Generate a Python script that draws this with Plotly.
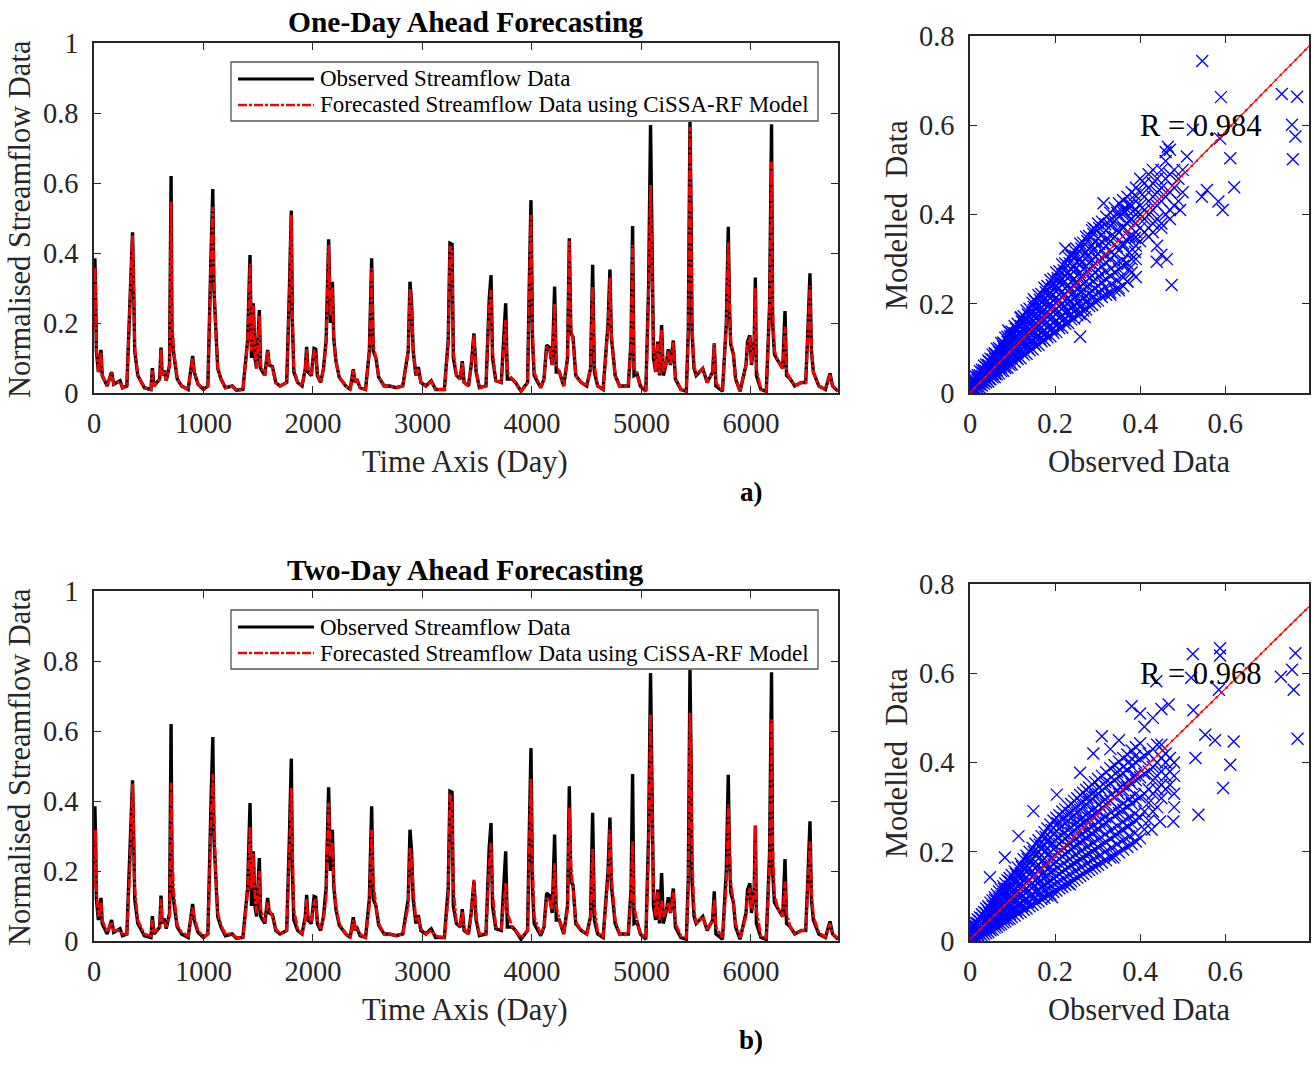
import numpy as np
import plotly.graph_objects as go

# ---------------- time series (day, observed, 1-day forecast, 2-day forecast) ----------------
DAYS = [0, 8, 14, 22, 40, 64, 75, 120, 161, 180, 238, 260, 300, 330, 345, 352, 362, 372, 400, 460,
        520, 533, 548, 600, 612, 622, 640, 660, 690, 700, 704, 712, 725, 760, 800, 860, 901, 915, 950, 1000,
        1040, 1070, 1085, 1095, 1110, 1130, 1160, 1200, 1263, 1300, 1360, 1382, 1403, 1425, 1438, 1455, 1470, 1485, 1510, 1522,
        1560, 1586, 1600, 1630, 1660, 1700, 1760, 1785, 1802, 1812, 1825, 1860, 1900, 1930, 1942, 1955, 1985, 2010, 2025, 2040,
        2070, 2096, 2120, 2143, 2160, 2177, 2190, 2210, 2240, 2300, 2340, 2368, 2385, 2400, 2430, 2480, 2515, 2536, 2550, 2575,
        2600, 2650, 2700, 2760, 2820, 2870, 2886, 2900, 2915, 2940, 2962, 2985, 3030, 3080, 3120, 3200, 3235, 3251, 3270, 3282,
        3310, 3345, 3364, 3380, 3420, 3445, 3470, 3490, 3520, 3580, 3610, 3626, 3640, 3670, 3720, 3760, 3775, 3820, 3850, 3900,
        3960, 3975, 3991, 4005, 4020, 4080, 4110, 4134, 4160, 4185, 4207, 4222, 4250, 4290, 4325, 4341, 4355, 4375, 4400, 4450,
        4500, 4535, 4554, 4570, 4600, 4650, 4695, 4712, 4725, 4760, 4800, 4880, 4905, 4919, 4932, 4960, 4990, 5040, 5065, 5083,
        5095, 5110, 5130, 5148, 5165, 5184, 5200, 5230, 5245, 5265, 5291, 5310, 5360, 5410, 5428, 5443, 5452, 5462, 5480, 5500,
        5560, 5600, 5650, 5665, 5680, 5740, 5775, 5793, 5803, 5815, 5840, 5860, 5900, 5955, 5969, 5990, 6005, 6030, 6040, 6050,
        6090, 6140, 6170, 6188, 6198, 6215, 6250, 6290, 6311, 6325, 6360, 6400, 6460, 6500, 6520, 6539, 6552, 6570, 6620, 6680,
        6722, 6745, 6795]

OBS = [0.20, 0.385, 0.30, 0.12, 0.06, 0.123, 0.05, 0.02, 0.06, 0.025, 0.035, 0.015, 0.02, 0.27, 0.40, 0.459, 0.30, 0.12, 0.05, 0.015,
       0.01, 0.071, 0.02, 0.04, 0.13, 0.05, 0.065, 0.035, 0.08, 0.45, 0.62, 0.18, 0.12, 0.04, 0.02, 0.01, 0.106, 0.06, 0.025, 0.01,
       0.02, 0.41, 0.583, 0.30, 0.18, 0.07, 0.04, 0.015, 0.02, 0.008, 0.01, 0.08, 0.15, 0.394, 0.10, 0.256, 0.10, 0.07, 0.237, 0.07,
       0.05, 0.123, 0.08, 0.075, 0.03, 0.02, 0.03, 0.30, 0.521, 0.20, 0.06, 0.03, 0.02, 0.07, 0.132, 0.06, 0.05, 0.127, 0.125, 0.05,
       0.03, 0.07, 0.15, 0.439, 0.20, 0.318, 0.155, 0.09, 0.045, 0.02, 0.01, 0.068, 0.03, 0.04, 0.015, 0.01, 0.12, 0.385, 0.12, 0.10,
       0.045, 0.02, 0.02, 0.015, 0.02, 0.12, 0.318, 0.26, 0.12, 0.05, 0.074, 0.03, 0.02, 0.035, 0.01, 0.01, 0.15, 0.428, 0.425, 0.10,
       0.05, 0.04, 0.091, 0.03, 0.02, 0.08, 0.17, 0.06, 0.015, 0.02, 0.27, 0.337, 0.10, 0.035, 0.03, 0.256, 0.04, 0.04, 0.03, 0.005,
       0.03, 0.30, 0.551, 0.15, 0.05, 0.015, 0.04, 0.137, 0.13, 0.08, 0.304, 0.06, 0.06, 0.02, 0.10, 0.442, 0.17, 0.16, 0.05, 0.03,
       0.02, 0.07, 0.366, 0.06, 0.02, 0.01, 0.20, 0.353, 0.16, 0.05, 0.02, 0.02, 0.15, 0.477, 0.05, 0.055, 0.02, 0.005, 0.30, 0.766,
       0.37, 0.10, 0.06, 0.147, 0.05, 0.194, 0.05, 0.09, 0.125, 0.08, 0.15, 0.04, 0.01, 0.005, 0.18, 0.775, 0.55, 0.17, 0.07, 0.05,
       0.07, 0.03, 0.06, 0.142, 0.02, 0.005, 0.20, 0.475, 0.256, 0.14, 0.11, 0.04, 0.005, 0.08, 0.147, 0.165, 0.08, 0.15, 0.33, 0.05,
       0.01, 0.005, 0.25, 0.768, 0.20, 0.11, 0.09, 0.07, 0.234, 0.05, 0.04, 0.02, 0.03, 0.03, 0.18, 0.342, 0.12, 0.06, 0.02, 0.01,
       0.056, 0.02, 0.005]

FC_1DAY = [0.18, 0.36, 0.32, 0.13, 0.06, 0.115, 0.05, 0.02, 0.058, 0.025, 0.033, 0.015, 0.02, 0.26, 0.42, 0.45, 0.32, 0.13, 0.05, 0.015,
           0.01, 0.065, 0.02, 0.04, 0.125, 0.05, 0.063, 0.035, 0.08, 0.44, 0.547, 0.22, 0.13, 0.042, 0.02, 0.01, 0.10, 0.062, 0.025, 0.01,
           0.02, 0.40, 0.532, 0.33, 0.19, 0.07, 0.04, 0.015, 0.02, 0.008, 0.01, 0.078, 0.145, 0.37, 0.12, 0.25, 0.11, 0.07, 0.22, 0.08,
           0.05, 0.12, 0.085, 0.07, 0.03, 0.02, 0.03, 0.28, 0.509, 0.23, 0.07, 0.03, 0.02, 0.07, 0.125, 0.065, 0.05, 0.12, 0.12, 0.055,
           0.03, 0.068, 0.14, 0.423, 0.22, 0.30, 0.16, 0.09, 0.045, 0.02, 0.01, 0.065, 0.03, 0.04, 0.015, 0.01, 0.12, 0.356, 0.14, 0.10,
           0.045, 0.02, 0.02, 0.015, 0.02, 0.12, 0.30, 0.25, 0.13, 0.05, 0.07, 0.03, 0.02, 0.033, 0.01, 0.01, 0.14, 0.42, 0.41, 0.12,
           0.05, 0.04, 0.088, 0.03, 0.02, 0.08, 0.165, 0.065, 0.015, 0.02, 0.25, 0.294, 0.12, 0.035, 0.03, 0.209, 0.06, 0.04, 0.03, 0.005,
           0.03, 0.28, 0.509, 0.18, 0.06, 0.015, 0.04, 0.13, 0.13, 0.08, 0.256, 0.08, 0.06, 0.02, 0.10, 0.435, 0.19, 0.15, 0.05, 0.03,
           0.02, 0.07, 0.304, 0.08, 0.02, 0.01, 0.19, 0.33, 0.17, 0.05, 0.02, 0.02, 0.14, 0.423, 0.07, 0.055, 0.02, 0.005, 0.28, 0.594,
           0.40, 0.12, 0.06, 0.14, 0.055, 0.18, 0.06, 0.09, 0.12, 0.08, 0.145, 0.045, 0.01, 0.005, 0.17, 0.76, 0.55, 0.20, 0.08, 0.05,
           0.07, 0.03, 0.06, 0.14, 0.03, 0.005, 0.19, 0.43, 0.27, 0.15, 0.11, 0.04, 0.005, 0.08, 0.14, 0.16, 0.085, 0.15, 0.299, 0.07,
           0.01, 0.005, 0.24, 0.661, 0.24, 0.12, 0.09, 0.07, 0.19, 0.06, 0.04, 0.02, 0.03, 0.03, 0.17, 0.306, 0.13, 0.06, 0.02, 0.01,
           0.054, 0.02, 0.005]

FC_2DAY = [0.15, 0.30, 0.318, 0.15, 0.07, 0.11, 0.06, 0.025, 0.055, 0.03, 0.03, 0.02, 0.02, 0.22, 0.40, 0.45, 0.34, 0.15, 0.06, 0.02,
           0.015, 0.06, 0.025, 0.04, 0.12, 0.06, 0.06, 0.04, 0.07, 0.40, 0.452, 0.30, 0.15, 0.045, 0.025, 0.015, 0.095, 0.07, 0.03, 0.012,
           0.02, 0.35, 0.478, 0.38, 0.20, 0.08, 0.045, 0.02, 0.02, 0.01, 0.01, 0.07, 0.14, 0.327, 0.15, 0.25, 0.12, 0.08, 0.20, 0.09,
           0.055, 0.11, 0.09, 0.07, 0.035, 0.02, 0.03, 0.25, 0.437, 0.28, 0.09, 0.035, 0.02, 0.06, 0.12, 0.07, 0.055, 0.11, 0.12, 0.06,
           0.035, 0.065, 0.12, 0.395, 0.24, 0.28, 0.17, 0.10, 0.05, 0.02, 0.01, 0.06, 0.035, 0.04, 0.02, 0.01, 0.10, 0.317, 0.17, 0.10,
           0.05, 0.02, 0.02, 0.015, 0.02, 0.10, 0.265, 0.24, 0.15, 0.06, 0.065, 0.035, 0.02, 0.03, 0.015, 0.01, 0.12, 0.42, 0.39, 0.15,
           0.055, 0.04, 0.085, 0.035, 0.02, 0.075, 0.177, 0.07, 0.02, 0.02, 0.22, 0.28, 0.14, 0.04, 0.035, 0.166, 0.08, 0.04, 0.03, 0.01,
           0.03, 0.25, 0.463, 0.22, 0.07, 0.02, 0.04, 0.12, 0.12, 0.09, 0.222, 0.10, 0.06, 0.02, 0.09, 0.38, 0.22, 0.15, 0.055, 0.03,
           0.02, 0.065, 0.263, 0.10, 0.025, 0.01, 0.18, 0.318, 0.19, 0.06, 0.02, 0.02, 0.12, 0.284, 0.10, 0.055, 0.02, 0.01, 0.25, 0.648,
           0.45, 0.15, 0.07, 0.14, 0.06, 0.115, 0.07, 0.09, 0.11, 0.08, 0.14, 0.05, 0.015, 0.01, 0.15, 0.652, 0.55, 0.25, 0.09, 0.05,
           0.07, 0.03, 0.06, 0.12, 0.04, 0.01, 0.16, 0.39, 0.30, 0.17, 0.11, 0.05, 0.01, 0.07, 0.13, 0.15, 0.09, 0.14, 0.33, 0.09,
           0.015, 0.01, 0.22, 0.633, 0.28, 0.13, 0.09, 0.07, 0.17, 0.08, 0.04, 0.02, 0.03, 0.03, 0.16, 0.284, 0.15, 0.07, 0.025, 0.01,
           0.05, 0.02, 0.008]

# ---------------- scatter: observed vs modelled ----------------
# dense part of each cloud: each row is [observed, modelled values seen at that observed level...]
CLOUD_1DAY = [
    [0.003, 0.0, 0.005, 0.011, 0.016, 0.02, 0.025], [0.008, 0.003, 0.009, 0.014, 0.019, 0.025, 0.029],
    [0.013, 0.005, 0.01, 0.016, 0.022, 0.028, 0.037], [0.018, 0.011, 0.017, 0.022, 0.029, 0.035, 0.04],
    [0.023, 0.012, 0.019, 0.026, 0.032, 0.04, 0.049], [0.028, 0.017, 0.024, 0.03, 0.038, 0.046, 0.052],
    [0.033, 0.021, 0.027, 0.035, 0.043, 0.051, 0.061], [0.038, 0.024, 0.032, 0.04, 0.049, 0.057, 0.064],
    [0.043, 0.026, 0.035, 0.045, 0.054, 0.062, 0.073], [0.048, 0.031, 0.04, 0.05, 0.059, 0.069, 0.077],
    [0.053, 0.035, 0.043, 0.055, 0.064, 0.075, 0.086], [0.058, 0.036, 0.048, 0.058, 0.07, 0.081, 0.089],
    [0.063, 0.042, 0.051, 0.063, 0.075, 0.086, 0.099], [0.068, 0.044, 0.056, 0.069, 0.08, 0.092, 0.101],
    [0.073, 0.049, 0.059, 0.073, 0.085, 0.097, 0.112], [0.078, 0.05, 0.064, 0.078, 0.091, 0.104, 0.113],
    [0.083, 0.056, 0.067, 0.082, 0.096, 0.109, 0.124], [0.088, 0.057, 0.072, 0.087, 0.101, 0.115, 0.126],
    [0.093, 0.063, 0.075, 0.091, 0.106, 0.121, 0.136], [0.098, 0.064, 0.08, 0.096, 0.112, 0.127, 0.138],
    [0.105, 0.07, 0.086, 0.103, 0.118, 0.134, 0.15], [0.112, 0.076, 0.091, 0.108, 0.126, 0.142, 0.155],
    [0.119, 0.078, 0.097, 0.115, 0.133, 0.15, 0.168], [0.126, 0.086, 0.102, 0.12, 0.14, 0.158, 0.172],
    [0.133, 0.088, 0.108, 0.127, 0.146, 0.165, 0.185], [0.14, 0.096, 0.113, 0.133, 0.153, 0.172, 0.189],
    [0.147, 0.098, 0.119, 0.139, 0.16, 0.18, 0.202], [0.154, 0.106, 0.124, 0.145, 0.167, 0.188, 0.205],
    [0.161, 0.108, 0.13, 0.152, 0.173, 0.195, 0.219], [0.168, 0.116, 0.135, 0.158, 0.18, 0.203, 0.222],
    [0.175, 0.118, 0.141, 0.164, 0.187, 0.21, 0.236], [0.182, 0.125, 0.146, 0.17, 0.194, 0.218, 0.24],
    [0.189, 0.127, 0.152, 0.176, 0.2, 0.225, 0.253], [0.196, 0.135, 0.157, 0.182, 0.207, 0.233, 0.256],
    [0.203, 0.137, 0.163, 0.189, 0.214, 0.24, 0.27], [0.21, 0.145, 0.168, 0.195, 0.221, 0.248, 0.273],
    [0.217, 0.147, 0.174, 0.201, 0.228, 0.255, 0.288], [0.224, 0.155, 0.18, 0.207, 0.235, 0.263, 0.29],
    [0.231, 0.157, 0.185, 0.213, 0.242, 0.27, 0.305], [0.238, 0.165, 0.19, 0.22, 0.249, 0.278, 0.307],
    [0.245, 0.167, 0.196, 0.226, 0.256, 0.286, 0.32], [0.252, 0.175, 0.201, 0.232, 0.263, 0.294, 0.322],
    [0.259, 0.177, 0.207, 0.238, 0.27, 0.301, 0.335], [0.266, 0.185, 0.212, 0.244, 0.277, 0.309, 0.337],
    [0.273, 0.187, 0.218, 0.25, 0.284, 0.316, 0.35], [0.28, 0.195, 0.223, 0.257, 0.291, 0.324, 0.352],
    [0.287, 0.197, 0.229, 0.263, 0.298, 0.331, 0.365], [0.294, 0.205, 0.234, 0.27, 0.305, 0.339, 0.367],
    [0.301, 0.207, 0.24, 0.276, 0.312, 0.346, 0.38], [0.31, 0.215, 0.248, 0.284, 0.32, 0.355, 0.384],
    [0.32, 0.22, 0.255, 0.292, 0.33, 0.365, 0.395], [0.33, 0.225, 0.262, 0.3, 0.34, 0.375, 0.404],
    [0.34, 0.23, 0.27, 0.31, 0.35, 0.385, 0.415], [0.35, 0.235, 0.277, 0.32, 0.36, 0.395, 0.425],
    [0.36, 0.24, 0.285, 0.33, 0.37, 0.405, 0.432], [0.37, 0.25, 0.29, 0.34, 0.38, 0.41, 0.44],
    [0.38, 0.27, 0.3, 0.35, 0.39, 0.42, 0.45], [0.39, 0.3, 0.33, 0.36, 0.4, 0.43, 0.46],
    [0.4, 0.34, 0.37, 0.4, 0.42, 0.45, 0.48], [0.41, 0.36, 0.39, 0.41, 0.44, 0.47],
    [0.42, 0.37, 0.4, 0.43, 0.46, 0.49], [0.43, 0.38, 0.41, 0.44, 0.47, 0.5],
    [0.44, 0.39, 0.42, 0.45, 0.48], [0.45, 0.38, 0.43, 0.46, 0.5], [0.46, 0.4, 0.44, 0.48, 0.52],
    [0.47, 0.41, 0.45, 0.49], [0.48, 0.42, 0.46, 0.5], [0.49, 0.43, 0.48], [0.5, 0.45, 0.5],
    [0.045, 0.032, 0.042, 0.051, 0.061, 0.07], [0.059, 0.043, 0.054, 0.065, 0.076, 0.087],
    [0.08, 0.059, 0.072, 0.085, 0.098, 0.111], [0.094, 0.069, 0.084, 0.098, 0.113, 0.127],
    [0.108, 0.08, 0.096, 0.112, 0.128, 0.144], [0.122, 0.09, 0.108, 0.125, 0.143, 0.16],
    [0.136, 0.101, 0.12, 0.139, 0.158, 0.176], [0.15, 0.111, 0.132, 0.152, 0.172, 0.193],
    [0.164, 0.122, 0.144, 0.165, 0.187, 0.209], [0.178, 0.132, 0.156, 0.179, 0.202, 0.226],
    [0.192, 0.143, 0.168, 0.192, 0.217, 0.242], [0.206, 0.153, 0.18, 0.206, 0.232, 0.258],
    [0.22, 0.164, 0.192, 0.219, 0.247, 0.275], [0.234, 0.174, 0.204, 0.233, 0.262, 0.291],
    [0.248, 0.185, 0.215, 0.246, 0.277, 0.307], [0.262, 0.195, 0.227, 0.26, 0.292, 0.324],
    [0.276, 0.206, 0.239, 0.273, 0.306, 0.34], [0.29, 0.216, 0.251, 0.286, 0.321, 0.356],
    [0.304, 0.227, 0.262, 0.298, 0.334, 0.369], [0.318, 0.237, 0.272, 0.307, 0.343, 0.378],
    [0.332, 0.244, 0.279, 0.315, 0.351, 0.386], [0.346, 0.252, 0.29, 0.328, 0.366, 0.404],
    [0.36, 0.259, 0.297, 0.335, 0.373, 0.411], [0.374, 0.278, 0.314, 0.35, 0.386, 0.422],
    [0.388, 0.316, 0.348, 0.38, 0.412, 0.444],
]
CLOUD_2DAY = [
    [0.003, 0.0, 0.006, 0.012, 0.018, 0.024, 0.029], [0.008, 0.002, 0.009, 0.016, 0.022, 0.029, 0.036],
    [0.013, 0.004, 0.011, 0.019, 0.027, 0.034, 0.041], [0.018, 0.007, 0.015, 0.023, 0.031, 0.04, 0.048],
    [0.023, 0.009, 0.017, 0.026, 0.036, 0.045, 0.053], [0.028, 0.012, 0.021, 0.03, 0.04, 0.051, 0.06],
    [0.033, 0.015, 0.024, 0.034, 0.045, 0.056, 0.065], [0.038, 0.018, 0.028, 0.038, 0.05, 0.062, 0.073],
    [0.043, 0.02, 0.031, 0.042, 0.054, 0.067, 0.078], [0.048, 0.024, 0.035, 0.047, 0.059, 0.073, 0.086],
    [0.053, 0.026, 0.038, 0.051, 0.064, 0.078, 0.091], [0.058, 0.03, 0.042, 0.055, 0.069, 0.084, 0.098],
    [0.063, 0.032, 0.045, 0.059, 0.074, 0.089, 0.104], [0.068, 0.036, 0.049, 0.063, 0.079, 0.095, 0.111],
    [0.073, 0.038, 0.052, 0.067, 0.084, 0.1, 0.116], [0.078, 0.042, 0.056, 0.072, 0.089, 0.106, 0.123],
    [0.083, 0.044, 0.059, 0.076, 0.094, 0.111, 0.129], [0.088, 0.048, 0.063, 0.08, 0.099, 0.117, 0.136],
    [0.093, 0.05, 0.066, 0.084, 0.104, 0.122, 0.141], [0.098, 0.054, 0.07, 0.088, 0.109, 0.128, 0.148],
    [0.105, 0.057, 0.075, 0.094, 0.115, 0.136, 0.156], [0.112, 0.062, 0.08, 0.1, 0.122, 0.144, 0.165],
    [0.119, 0.065, 0.085, 0.106, 0.129, 0.152, 0.173], [0.126, 0.07, 0.09, 0.112, 0.136, 0.16, 0.183],
    [0.133, 0.073, 0.095, 0.118, 0.143, 0.168, 0.191], [0.14, 0.078, 0.1, 0.124, 0.15, 0.176, 0.2],
    [0.147, 0.081, 0.105, 0.13, 0.157, 0.184, 0.209], [0.154, 0.086, 0.11, 0.136, 0.164, 0.192, 0.218],
    [0.161, 0.089, 0.115, 0.142, 0.171, 0.2, 0.226], [0.168, 0.094, 0.12, 0.148, 0.178, 0.208, 0.235],
    [0.175, 0.097, 0.125, 0.154, 0.185, 0.216, 0.244], [0.182, 0.102, 0.13, 0.16, 0.192, 0.224, 0.252],
    [0.189, 0.105, 0.135, 0.166, 0.199, 0.232, 0.261], [0.196, 0.11, 0.14, 0.172, 0.206, 0.24, 0.27],
    [0.203, 0.113, 0.145, 0.178, 0.212, 0.246, 0.276], [0.21, 0.118, 0.15, 0.184, 0.218, 0.252, 0.282],
    [0.217, 0.121, 0.155, 0.19, 0.224, 0.258, 0.29], [0.224, 0.126, 0.16, 0.195, 0.23, 0.264, 0.295],
    [0.231, 0.129, 0.165, 0.2, 0.236, 0.27, 0.302], [0.238, 0.134, 0.17, 0.206, 0.242, 0.276, 0.307],
    [0.245, 0.137, 0.174, 0.211, 0.248, 0.282, 0.314], [0.252, 0.142, 0.178, 0.216, 0.254, 0.288, 0.32],
    [0.259, 0.146, 0.183, 0.221, 0.26, 0.294, 0.327], [0.266, 0.15, 0.187, 0.226, 0.265, 0.3, 0.332],
    [0.273, 0.155, 0.192, 0.231, 0.27, 0.306, 0.339], [0.28, 0.159, 0.196, 0.236, 0.275, 0.312, 0.344],
    [0.287, 0.163, 0.2, 0.241, 0.28, 0.318, 0.351], [0.294, 0.167, 0.205, 0.246, 0.285, 0.324, 0.356],
    [0.301, 0.171, 0.21, 0.251, 0.29, 0.33, 0.363], [0.31, 0.176, 0.216, 0.258, 0.298, 0.337, 0.37],
    [0.32, 0.181, 0.222, 0.265, 0.306, 0.345, 0.378], [0.33, 0.187, 0.229, 0.272, 0.314, 0.353, 0.387],
    [0.34, 0.193, 0.236, 0.28, 0.322, 0.36, 0.394], [0.35, 0.199, 0.243, 0.287, 0.33, 0.368, 0.402],
    [0.36, 0.205, 0.25, 0.294, 0.338, 0.376, 0.41], [0.37, 0.211, 0.256, 0.301, 0.345, 0.384, 0.418],
    [0.38, 0.217, 0.263, 0.308, 0.352, 0.392, 0.427], [0.39, 0.223, 0.27, 0.315, 0.36, 0.4, 0.434],
    [0.4, 0.23, 0.277, 0.322, 0.367, 0.408, 0.443], [0.41, 0.25, 0.29, 0.33, 0.375, 0.415],
    [0.42, 0.27, 0.31, 0.34, 0.38, 0.42], [0.43, 0.29, 0.33, 0.36, 0.39, 0.43],
    [0.44, 0.3, 0.34, 0.37, 0.4, 0.44], [0.45, 0.32, 0.35, 0.38, 0.41, 0.44],
    [0.46, 0.34, 0.37, 0.4, 0.42], [0.47, 0.35, 0.38, 0.41], [0.48, 0.33, 0.37, 0.4],
    [0.045, 0.028, 0.04, 0.052, 0.063, 0.075], [0.059, 0.037, 0.051, 0.065, 0.078, 0.092],
    [0.08, 0.051, 0.067, 0.084, 0.1, 0.117], [0.094, 0.06, 0.078, 0.097, 0.115, 0.133],
    [0.108, 0.069, 0.089, 0.109, 0.13, 0.15], [0.122, 0.078, 0.1, 0.122, 0.144, 0.166],
    [0.136, 0.087, 0.111, 0.135, 0.159, 0.183], [0.15, 0.096, 0.122, 0.148, 0.174, 0.2],
    [0.164, 0.105, 0.133, 0.161, 0.188, 0.216], [0.178, 0.114, 0.144, 0.173, 0.203, 0.233],
    [0.192, 0.123, 0.155, 0.186, 0.218, 0.249], [0.206, 0.132, 0.165, 0.198, 0.231, 0.264],
    [0.22, 0.14, 0.174, 0.208, 0.241, 0.275], [0.234, 0.149, 0.183, 0.218, 0.252, 0.287],
    [0.248, 0.157, 0.193, 0.228, 0.263, 0.298], [0.262, 0.166, 0.202, 0.238, 0.274, 0.31],
    [0.276, 0.174, 0.211, 0.248, 0.285, 0.321], [0.29, 0.183, 0.22, 0.258, 0.295, 0.333],
    [0.304, 0.191, 0.229, 0.268, 0.306, 0.344], [0.318, 0.2, 0.239, 0.278, 0.317, 0.356],
    [0.332, 0.209, 0.248, 0.288, 0.328, 0.367], [0.346, 0.217, 0.258, 0.298, 0.338, 0.379],
    [0.36, 0.226, 0.267, 0.308, 0.349, 0.39], [0.374, 0.234, 0.276, 0.318, 0.36, 0.402],
    [0.388, 0.242, 0.285, 0.328, 0.371, 0.414],
]

# scattered points away from the dense band
OUT_OBS_1DAY = [0.546, 0.59, 0.733, 0.769, 0.757, 0.765, 0.759, 0.612, 0.621, 0.584, 0.594, 0.588, 0.524, 0.557,
                0.545, 0.494, 0.51, 0.474, 0.439, 0.463, 0.45, 0.259, 0.27, 0.224, 0.207, 0.314, 0.465, 0.47, 0.46,
                0.42, 0.44, 0.43, 0.45, 0.47, 0.33, 0.35, 0.37, 0.39, 0.24, 0.29, 0.15, 0.12, 0.09]
OUT_MOD_1DAY = [0.744, 0.663, 0.67, 0.664, 0.601, 0.575, 0.524, 0.526, 0.461, 0.429, 0.41, 0.57, 0.59, 0.455,
                0.44, 0.41, 0.53, 0.242, 0.294, 0.30, 0.31, 0.126, 0.17, 0.324, 0.253, 0.425, 0.552, 0.545, 0.54,
                0.35, 0.33, 0.36, 0.37, 0.39, 0.22, 0.23, 0.25, 0.26, 0.31, 0.37, 0.21, 0.17, 0.14]
OUT_OBS_2DAY = [0.524, 0.588, 0.588, 0.765, 0.757, 0.731, 0.761, 0.77, 0.585, 0.52, 0.525, 0.438, 0.553, 0.576,
                0.62, 0.612, 0.595, 0.537, 0.53, 0.38, 0.40, 0.467, 0.43, 0.45, 0.31, 0.29, 0.447, 0.427, 0.478,
                0.337, 0.235, 0.193, 0.114, 0.082, 0.149, 0.204, 0.259, 0.047, 0.48, 0.35, 0.33, 0.41]
OUT_MOD_2DAY = [0.643, 0.656, 0.64, 0.645, 0.608, 0.592, 0.563, 0.453, 0.563, 0.59, 0.517, 0.582, 0.462, 0.45,
                0.447, 0.395, 0.343, 0.283, 0.41, 0.526, 0.51, 0.53, 0.5, 0.52, 0.459, 0.42, 0.268, 0.25, 0.268,
                0.187, 0.127, 0.098, 0.235, 0.187, 0.291, 0.328, 0.377, 0.143, 0.3, 0.45, 0.43, 0.48]

# least-squares fit lines and correlation labels
FIT_1DAY = (0.974, 0.001)
FIT_2DAY = (0.935, 0.004)
R_1DAY = "R = 0.984"
R_2DAY = "R = 0.968"

TITLES = ["One-Day Ahead Forecasting", "Two-Day Ahead Forecasting"]
PANEL_TAGS = ["a)", "b)"]
LEGEND_TEXT = ["Observed Streamflow Data", "Forecasted Streamflow Data using CiSSA-RF Model"]

W, H = 1314, 1071
SERIF = "Liberation Serif"
AX_COLOR = "#262626"
RED_DASH = "9px,2px,3px,2px"


def px(x):
    return x / W


def py(y):
    return 1 - y / H


def flatten(cloud, extra_x, extra_y):
    xs, ys = [], []
    for row in cloud:
        for v in row[1:]:
            xs.append(row[0])
            ys.append(v)
    return xs + list(extra_x), ys + list(extra_y)


fig = go.Figure()

ROW_SHIFT = [0, 548]   # vertical offset of the lower row, pixels
forecasts = [FC_1DAY, FC_2DAY]
scatter_sets = [flatten(CLOUD_1DAY, OUT_OBS_1DAY, OUT_MOD_1DAY),
                flatten(CLOUD_2DAY, OUT_OBS_2DAY, OUT_MOD_2DAY)]
fits = [FIT_1DAY, FIT_2DAY]
rtext = [R_1DAY, R_2DAY]

axis_common = dict(showgrid=False, zeroline=False, showline=True, linecolor=AX_COLOR, linewidth=1.6,
                   mirror="allticks", ticks="inside", ticklen=7, tickwidth=1.3, tickcolor=AX_COLOR,
                   automargin=False, tickfont=dict(family=SERIF, size=28.5, color=AX_COLOR))

layout_axes = {}
for r in range(2):
    n, m = 2 * r + 1, 2 * r + 2
    ts_x, ts_y = ("x", "y") if n == 1 else (f"x{n}", f"y{n}")
    sc_x, sc_y = f"x{m}", f"y{m}"
    s = ROW_SHIFT[r]

    fig.add_trace(go.Scatter(x=DAYS, y=OBS, mode="lines", line=dict(color="black", width=3.4),
                             xaxis=ts_x, yaxis=ts_y, showlegend=False, hoverinfo="skip"))
    fig.add_trace(go.Scatter(x=DAYS, y=forecasts[r], mode="lines",
                             line=dict(color="#ff0000", width=2.8, dash=RED_DASH),
                             xaxis=ts_x, yaxis=ts_y, showlegend=False, hoverinfo="skip"))

    sx, sy = scatter_sets[r]
    fig.add_trace(go.Scatter(x=sx, y=sy, mode="markers",
                             marker=dict(symbol="x-thin", size=12, line=dict(color="#0000ff", width=1.35)),
                             xaxis=sc_x, yaxis=sc_y, showlegend=False, hoverinfo="skip"))
    slope, icpt = fits[r]
    fx = np.linspace(0, 0.8, 70)
    fig.add_trace(go.Scatter(x=fx, y=slope * fx + icpt, mode="lines+markers",
                             line=dict(color="#ff0000", width=1.2), marker=dict(size=2.5, color="#ff0000"),
                             xaxis=sc_x, yaxis=sc_y, showlegend=False, hoverinfo="skip"))

    kx = "xaxis" if n == 1 else f"xaxis{n}"
    ky = "yaxis" if n == 1 else f"yaxis{n}"
    layout_axes[kx] = dict(axis_common, domain=[px(94), px(838)], range=[0, 6795],
                           tickvals=[0, 1000, 2000, 3000, 4000, 5000, 6000],
                           anchor=ts_y, ticklabelstandoff=4)
    layout_axes[ky] = dict(axis_common, domain=[py(393 + s), py(43 + s)], range=[0, 1],
                           tickvals=[0, 0.2, 0.4, 0.6, 0.8, 1],
                           ticktext=["0", "0.2", "0.4", "0.6", "0.8", "1"],
                           anchor=ts_x, ticklabelstandoff=8)
    layout_axes[f"xaxis{m}"] = dict(axis_common, domain=[px(970), px(1309)], range=[0, 0.797],
                                    tickvals=[0, 0.2, 0.4, 0.6], ticktext=["0", "0.2", "0.4", "0.6"],
                                    anchor=sc_y, ticklabelstandoff=4)
    layout_axes[f"yaxis{m}"] = dict(axis_common, domain=[py(393 + s), py(36 + s)], range=[0, 0.8],
                                    tickvals=[0, 0.2, 0.4, 0.6, 0.8],
                                    ticktext=["0", "0.2", "0.4", "0.6", "0.8"],
                                    anchor=sc_x, ticklabelstandoff=8)

fig.update_layout(**layout_axes)

annotations = []
shapes = []
for r in range(2):
    s = ROW_SHIFT[r]
    annotations += [
        dict(text=f"<b>{TITLES[r]}</b>", x=px(465), y=py(22 + s), font=dict(size=29.5, color="black")),
        dict(text="Time Axis (Day)", x=px(465), y=py(462 + s), font=dict(size=30.5, color=AX_COLOR)),
        dict(text="Normalised Streamflow Data", x=px(20), y=py(219 + s), textangle=-90,
             font=dict(size=30.5, color=AX_COLOR)),
        dict(text="Observed Data", x=px(1139), y=py(462 + s), font=dict(size=30.5, color=AX_COLOR)),
        dict(text="Modelled  Data", x=px(897), y=py(215 + s), textangle=-90,
             font=dict(size=30.5, color=AX_COLOR)),
        dict(text=f"<b>{PANEL_TAGS[r]}</b>", x=px(751), y=py(492 + s), font=dict(size=27, color="black")),
        dict(text=LEGEND_TEXT[0], x=px(318), y=py(79 + s), xanchor="left", font=dict(size=23, color="black")),
        dict(text=LEGEND_TEXT[1], x=px(318), y=py(105 + s), xanchor="left", font=dict(size=23, color="black")),
    ]
    annotations.append(dict(text=rtext[r], x=0.543, y=0.599, xref=f"x{2 * r + 2}", yref=f"y{2 * r + 2}",
                            font=dict(size=30.5, color="black")))
    shapes += [
        dict(type="rect", xref="paper", yref="paper", x0=px(231), x1=px(818), y0=py(62 + s), y1=py(121 + s),
             line=dict(color="#555555", width=1.3), fillcolor="white", layer="above"),
        dict(type="line", xref="paper", yref="paper", x0=px(238), x1=px(314), y0=py(79 + s), y1=py(79 + s),
             line=dict(color="black", width=3)),
        dict(type="line", xref="paper", yref="paper", x0=px(238), x1=px(314), y0=py(105 + s), y1=py(105 + s),
             line=dict(color="#ff0000", width=2.6, dash=RED_DASH)),
    ]

for a in annotations:
    a.setdefault("xref", "paper")
    a.setdefault("yref", "paper")
    a.setdefault("xanchor", "center")
    a["yanchor"] = "middle"
    a["showarrow"] = False
    a["font"]["family"] = SERIF

fig.update_layout(width=W, height=H, margin=dict(l=0, r=0, t=0, b=0, pad=0, autoexpand=False),
                  paper_bgcolor="white", plot_bgcolor="white", showlegend=False,
                  annotations=annotations, shapes=shapes)

fig.write_html("out.html")
